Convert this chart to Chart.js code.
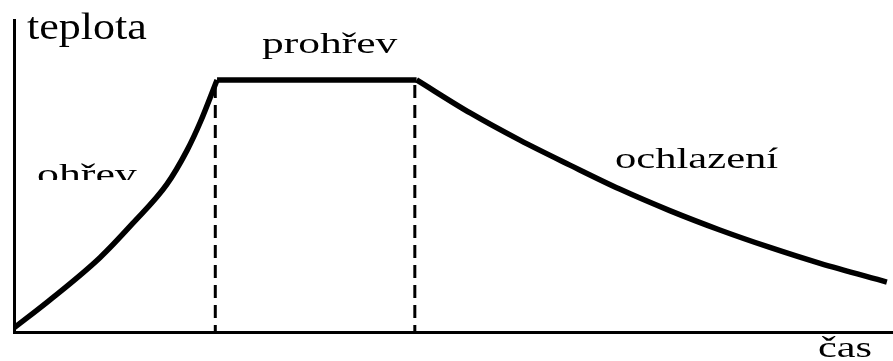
<!DOCTYPE html>
<html>
<head>
<meta charset="utf-8">
<script src="https://cdn.jsdelivr.net/npm/chart.js@4"></script>
<style>
    html, body { margin: 0; padding: 0; background: #fff; }
    #wrap { width: 893px; height: 361px; }
</style>
</head>
<body>
<div id="wrap"><canvas id="heatChart"></canvas></div>
<script>
// time and temperature, both on a 0-100 schematic scale
var riseTime = [0, 4.1, 9.8, 13.5, 17.4, 19.7, 21.2, 23.1];
var riseTemp = [1.3, 10.3, 23.9, 34.8, 47.4, 58.3, 67.3, 80.8];

var holdTime = [23.1, 45.8];
var holdTemp = [80.8, 80.8];

var coolTime = [45.8, 51.9, 57.6, 63.3, 68.9, 74.6, 80.3, 86.0, 91.7, 99.3];
var coolTemp = [80.8, 70.2, 61.4, 53.4, 45.8, 38.9, 32.7, 27.1, 22.0, 16.0];

var phaseEnds = [22.9, 45.6];
var phaseEndTop = 79.2;

var phaseLabels = ["ohřev", "prohřev", "ochlazení"];
var axisLabels = ["teplota", "čas"];

function toPoints(xs, ys) {
    var pts = [];
    for (var i = 0; i < xs.length; i++) {
        pts.push({x: xs[i], y: ys[i]});
    }
    return pts;
}

function solidLine(xs, ys) {
    return {
        data: toPoints(xs, ys),
        borderColor: "#000",
        borderWidth: 5.5,
        pointRadius: 0,
        cubicInterpolationMode: "monotone",
        borderCapStyle: "butt"
    };
}

function dashedLine(t) {
    return {
        data: [{x: t, y: phaseEndTop}, {x: t, y: 0}],
        borderColor: "#000",
        borderWidth: 3,
        borderDash: [13, 7],
        pointRadius: 0,
        tension: 0
    };
}

// draws the labels, fonts stretched sideways like the original
var textPlugin = {
    id: "texts",
    afterDraw: function(chart) {
        var ctx = chart.ctx;
        function put(str, x, y, size, sx, clipY) {
            ctx.save();
            if (clipY) {
                ctx.beginPath();
                ctx.rect(0, 0, chart.width, clipY);
                ctx.clip();
            }
            ctx.translate(x, y);
            ctx.scale(sx, 1);
            ctx.font = size + "px 'Liberation Serif'";
            ctx.fillStyle = "#000";
            ctx.textBaseline = "alphabetic";
            ctx.fillText(str, 0, 0);
            ctx.restore();
        }
        put(axisLabels[0], 27, 39, 37, 1.19);
        put(phaseLabels[1], 262, 53, 30, 1.45);
        put(phaseLabels[2], 615, 168, 30, 1.42);
        put(phaseLabels[0], 37, 184, 30, 1.46, 180);
        put(axisLabels[1], 818, 357, 30, 1.41);
    }
};

var heatChart = new Chart(document.getElementById("heatChart"), {
    type: "line",
    data: {
        datasets: [
            solidLine(riseTime, riseTemp),
            solidLine(holdTime, holdTemp),
            solidLine(coolTime, coolTemp),
            dashedLine(phaseEnds[0]),
            dashedLine(phaseEnds[1])
        ]
    },
    options: {
        responsive: true,
        maintainAspectRatio: false,
        devicePixelRatio: 1,
        animation: false,
        layout: { padding: { top: 20, left: 0, right: 0, bottom: 0 } },
        plugins: {
            legend: { display: false },
            tooltip: { enabled: false }
        },
        scales: {
            x: {
                type: "linear",
                min: 0,
                max: 100,
                ticks: { display: false },
                grid: { display: false },
                border: { display: true, color: "#000", width: 3 },
                afterFit: function(scale) { scale.height = 29; }
            },
            y: {
                type: "linear",
                min: 0,
                max: 100,
                ticks: { display: false },
                grid: { display: false },
                border: { display: true, color: "#000", width: 3 },
                afterFit: function(scale) { scale.width = 14; }
            }
        }
    },
    plugins: [textPlugin]
});
</script>
</body>
</html>
